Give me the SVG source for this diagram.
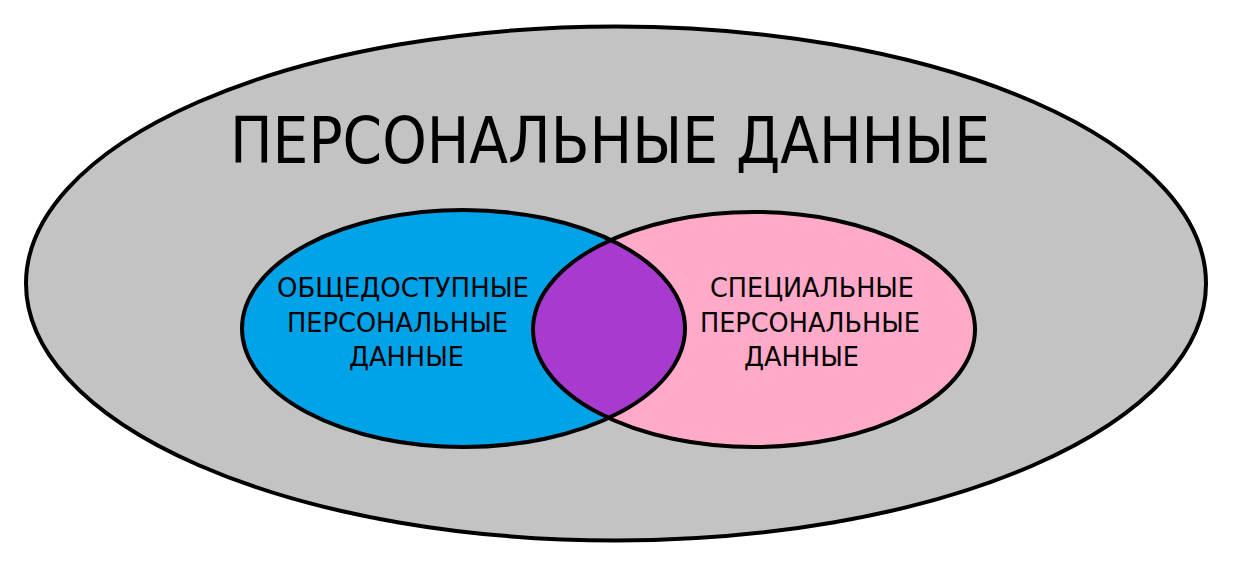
<svg xmlns="http://www.w3.org/2000/svg" width="1235" height="565" viewBox="0 0 1235 565">
  <style>
    .outline { fill: none; stroke: #000; stroke-width: 4; }
    .title { font-family: "DejaVu Sans", "Liberation Sans", sans-serif; font-size: 64px; fill: #000; text-anchor: middle; }
    .label { font-family: "DejaVu Sans", "Liberation Sans", sans-serif; font-size: 27px; fill: #000; text-anchor: middle; }
  </style>
  <defs>
    <clipPath id="clipBlue">
      <ellipse cx="463.5" cy="328.5" rx="221.5" ry="118.5"/>
    </clipPath>
  </defs>
  <rect width="1235" height="565" fill="#ffffff"/>
  <g id="personal-data">
    <ellipse cx="616" cy="283.5" rx="590" ry="257" fill="#C3C3C3" stroke="#000" stroke-width="4"/>
    <text class="title" x="610" y="163" textLength="760" lengthAdjust="spacingAndGlyphs">ПЕРСОНАЛЬНЫЕ ДАННЫЕ</text>
  </g>
  <g id="public-data">
    <ellipse cx="463.5" cy="328.5" rx="221.5" ry="118.5" fill="#00A2E8"/>
  </g>
  <g id="special-data">
    <ellipse cx="754" cy="329.5" rx="221" ry="117.5" fill="#FFAAC9"/>
  </g>
  <g id="intersection">
    <ellipse cx="754" cy="329.5" rx="221" ry="117.5" fill="#A83BCF" clip-path="url(#clipBlue)"/>
  </g>
  <g id="outlines">
    <ellipse class="outline" cx="463.5" cy="328.5" rx="221.5" ry="118.5"/>
    <ellipse class="outline" cx="754" cy="329.5" rx="221" ry="117.5"/>
  </g>
  <g id="public-label">
    <text class="label" x="403" y="297" textLength="252" lengthAdjust="spacingAndGlyphs">ОБЩЕДОСТУПНЫЕ</text>
    <text class="label" x="397.5" y="332" textLength="221" lengthAdjust="spacingAndGlyphs">ПЕРСОНАЛЬНЫЕ</text>
    <text class="label" x="406.5" y="366" textLength="115" lengthAdjust="spacingAndGlyphs">ДАННЫЕ</text>
  </g>
  <g id="special-label">
    <text class="label" x="812" y="297" textLength="204" lengthAdjust="spacingAndGlyphs">СПЕЦИАЛЬНЫЕ</text>
    <text class="label" x="810" y="332" textLength="220" lengthAdjust="spacingAndGlyphs">ПЕРСОНАЛЬНЫЕ</text>
    <text class="label" x="801.5" y="366" textLength="115" lengthAdjust="spacingAndGlyphs">ДАННЫЕ</text>
  </g>
</svg>
